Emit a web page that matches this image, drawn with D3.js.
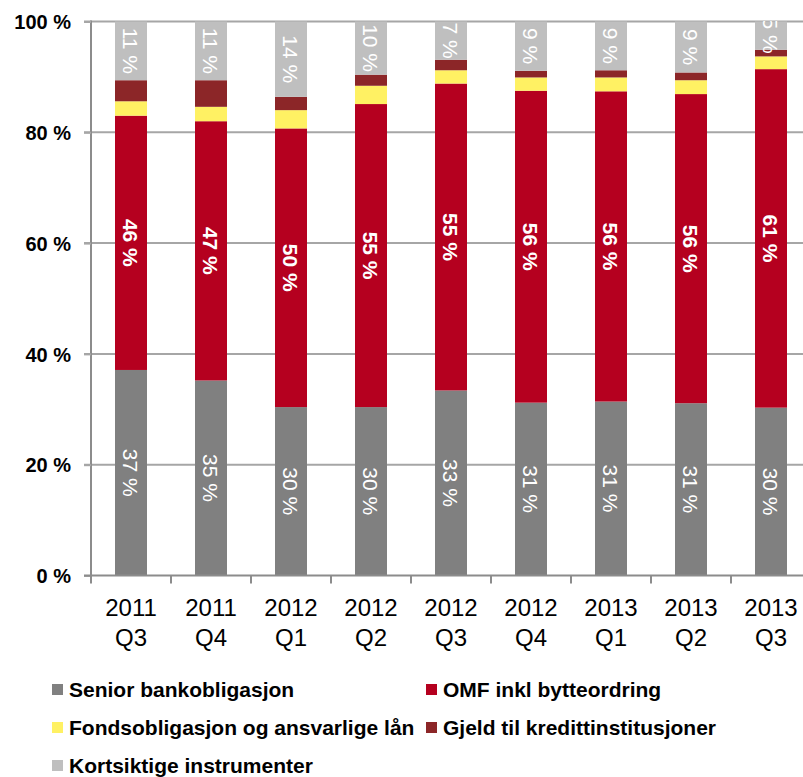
<!DOCTYPE html>
<html>
<head>
<meta charset="utf-8">
<script src="https://cdn.jsdelivr.net/npm/d3@7"></script>
<style>
  html, body { margin: 0; padding: 0; background: #fff; }
  svg { display: block; font-family: "Liberation Sans", Arial, sans-serif; }
</style>
</head>
<body>
<svg id="chart" width="803" height="777"></svg>
<script>
// Quarters on the x axis (two-line labels)
const quarters = ["2011 Q3", "2011 Q4", "2012 Q1", "2012 Q2", "2012 Q3", "2012 Q4", "2013 Q1", "2013 Q2", "2013 Q3"];

// Share of funding per source, in percent
const senior  = [37.1, 35.2, 30.4, 30.4, 33.4, 31.2, 31.4, 31.1, 30.3];
const omf     = [45.9, 46.8, 50.3, 54.7, 55.4, 56.3, 56.0, 55.8, 61.1];
const fond    = [2.6, 2.6, 3.3, 3.3, 2.4, 2.4, 2.5, 2.5, 2.3];
const gjeld   = [3.8, 4.8, 2.4, 2.0, 1.9, 1.2, 1.3, 1.4, 1.2];
const kort    = [10.6, 10.6, 13.6, 9.6, 6.9, 8.9, 8.8, 9.2, 5.1];

const yTicks = [0, 20, 40, 60, 80, 100];

const series = [
  { key: "senior", name: "Senior bankobligasjon", values: senior, color: "#808080", label: true, weight: "normal" },
  { key: "omf", name: "OMF inkl bytteordring", values: omf, color: "#B5001F", label: true, weight: "bold" },
  { key: "fond", name: "Fondsobligasjon og ansvarlige lån", values: fond, color: "#FFF163", label: false },
  { key: "gjeld", name: "Gjeld til kredittinstitusjoner", values: gjeld, color: "#8C2628", label: false },
  { key: "kort", name: "Kortsiktige instrumenter", values: kort, color: "#BFBFBF", label: true, weight: "normal" }
];

const rows = quarters.map((q, i) => {
  const r = { q };
  series.forEach(s => { r[s.key] = s.values[i]; });
  return r;
});

const svg = d3.select("#chart");
const margin = { left: 91, top: 21.5, bottom: 575.5 };
const plotRight = 811;

const x = d3.scaleBand().domain(quarters).range([margin.left, plotRight]).paddingInner(0.6).paddingOuter(0.3);
const y = d3.scaleLinear().domain([0, 100]).range([margin.bottom, margin.top]);

// Horizontal gridlines
svg.append("g").selectAll("line").data(yTicks.filter(d => d > 0)).join("line")
  .attr("x1", margin.left - 7).attr("x2", 803)
  .attr("y1", d => y(d)).attr("y2", d => y(d))
  .attr("stroke", "#a6a6a6").attr("stroke-width", 2);

// Stacked bars
const stack = d3.stack().keys(series.map(s => s.key));
const layers = stack(rows);

const gBars = svg.append("g");
layers.forEach((layer, li) => {
  gBars.append("g").attr("fill", series[li].color)
    .selectAll("rect").data(layer).join("rect")
    .attr("x", d => x(d.data.q))
    .attr("width", x.bandwidth())
    .attr("y", d => y(d[1]))
    .attr("height", d => y(d[0]) - y(d[1]));
});

// Y axis
const yAxis = d3.axisLeft(y).tickValues(yTicks).tickSize(7).tickFormat(d => d + " %");
const gy = svg.append("g").attr("transform", `translate(${margin.left},0)`).call(yAxis);
gy.select(".domain").attr("stroke", "#8c8c8c").attr("stroke-width", 2)
  .attr("d", `M0,${margin.top - 1}V${margin.bottom}`);
gy.selectAll(".tick line").attr("stroke", "#a6a6a6").attr("stroke-width", 2);
gy.selectAll(".tick text").attr("x", -20).attr("dy", "0.36em")
  .attr("font-size", 20).attr("font-weight", "bold").attr("fill", "#000")
  .attr("font-family", "Liberation Sans, Arial, sans-serif");

// X axis baseline and tick marks at band boundaries
svg.append("line").attr("x1", margin.left - 7).attr("x2", 803)
  .attr("y1", margin.bottom).attr("y2", margin.bottom)
  .attr("stroke", "#8c8c8c").attr("stroke-width", 2);
const step = x.step();
const boundaries = d3.range(quarters.length).map(i => x(quarters[i]) - x.paddingOuter() * step);
svg.append("g").selectAll("line").data(boundaries).join("line")
  .attr("x1", d => d).attr("x2", d => d)
  .attr("y1", margin.bottom).attr("y2", margin.bottom + 8)
  .attr("stroke", "#8c8c8c").attr("stroke-width", 2);

// Category labels
const gx = svg.append("g");
quarters.forEach(q => {
  const parts = q.split(" ");
  const cx = x(q) + x.bandwidth() / 2;
  const t = gx.append("text")
    .attr("text-anchor", "middle")
    .attr("font-size", 24).attr("fill", "#000");
  t.append("tspan").attr("x", cx).attr("y", 616).text(parts[0]);
  t.append("tspan").attr("x", cx).attr("y", 646).text(parts[1]);
});

// Value labels inside segments, rotated, clipped to the plot area
svg.append("clipPath").attr("id", "plotClip")
  .append("rect").attr("x", margin.left).attr("y", margin.top - 0.5)
  .attr("width", plotRight - margin.left).attr("height", margin.bottom - margin.top);

const gLabels = svg.append("g").attr("clip-path", "url(#plotClip)");
layers.forEach((layer, li) => {
  const s = series[li];
  if (!s.label) return;
  layer.forEach(d => {
    const cx = x(d.data.q) + x.bandwidth() / 2;
    const cy = y((d[0] + d[1]) / 2);
    gLabels.append("text")
      .attr("transform", `translate(${cx},${cy}) rotate(90)`)
      .attr("text-anchor", "middle").attr("dy", "0.36em")
      .attr("font-size", 21).attr("font-weight", s.weight)
      .attr("fill", "#fff")
      .text(Math.round(d[1] - d[0]) + " %");
  });
});

// Legend
const legendPos = [
  { x: 52, y: 697 }, { x: 426, y: 697 },
  { x: 52, y: 735 }, { x: 426, y: 735 },
  { x: 52, y: 773 }
];
const gLeg = svg.append("g");
series.forEach((s, i) => {
  const p = legendPos[i];
  gLeg.append("rect").attr("x", p.x).attr("y", p.y - 13).attr("width", 11).attr("height", 11).attr("fill", s.color);
  gLeg.append("text").attr("x", p.x + 17).attr("y", p.y)
    .attr("font-size", 21).attr("font-weight", "bold").attr("fill", "#000")
    .text(s.name);
});
</script>
</body>
</html>
